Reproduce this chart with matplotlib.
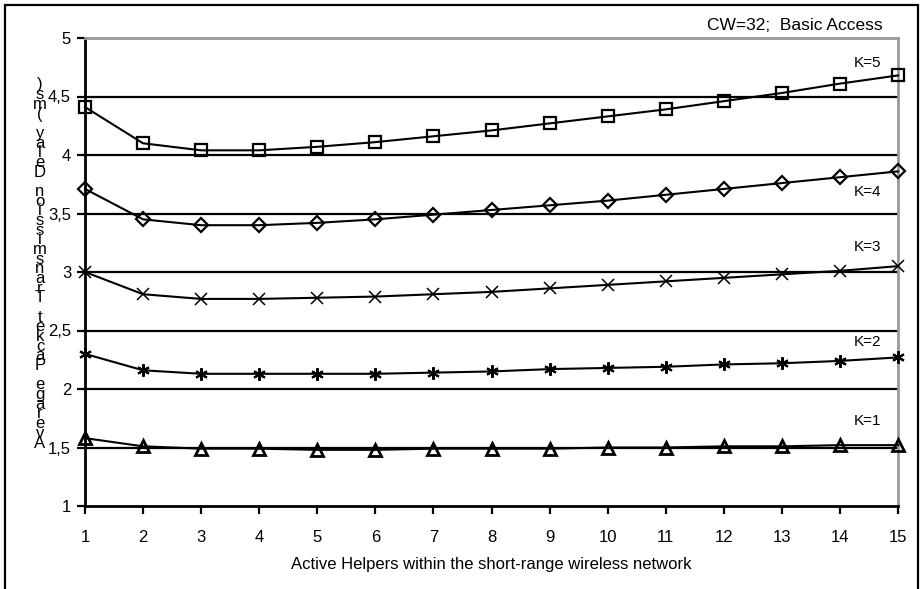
#!/usr/bin/env python

# Average packet transmission delay vs number of active helpers (CW=32, basic access)

import matplotlib

matplotlib.use("Agg")
import matplotlib.pyplot as plt
from matplotlib.patches import Rectangle

plt.rcParams["font.family"] = ["Liberation Sans", "DejaVu Sans"]

helpers = list(range(1, 16))
k_labels = ["K=1", "K=2", "K=3", "K=4", "K=5"]
delay_k1 = [1.58, 1.51, 1.49, 1.49, 1.48, 1.48, 1.49, 1.49, 1.49, 1.50, 1.50, 1.51, 1.51, 1.52, 1.52]
delay_k2 = [2.30, 2.16, 2.13, 2.13, 2.13, 2.13, 2.14, 2.15, 2.17, 2.18, 2.19, 2.21, 2.22, 2.24, 2.27]
delay_k3 = [3.00, 2.81, 2.77, 2.77, 2.78, 2.79, 2.81, 2.83, 2.86, 2.89, 2.92, 2.95, 2.98, 3.01, 3.05]
delay_k4 = [3.71, 3.45, 3.40, 3.40, 3.42, 3.45, 3.49, 3.53, 3.57, 3.61, 3.66, 3.71, 3.76, 3.81, 3.86]
delay_k5 = [4.41, 4.10, 4.04, 4.04, 4.07, 4.11, 4.16, 4.21, 4.27, 4.33, 4.39, 4.46, 4.53, 4.61, 4.68]
label_pos_y = [1.73, 2.40, 3.21, 3.68, 4.79]
y_ticks = [1, 1.5, 2, 2.5, 3, 3.5, 4, 4.5, 5]
y_tick_labels = ["1", "1,5", "2", "2,5", "3", "3,5", "4", "4,5", "5"]

series = [delay_k1, delay_k2, delay_k3, delay_k4, delay_k5]
markers = [
    dict(marker="^", ms=9, mew=2.0),
    dict(marker=(6, 2, 0), ms=9, mew=1.5),
    dict(marker="x", ms=8, mew=1.1),
    dict(marker="D", ms=7, mew=1.6),
    dict(marker="s", ms=8, mew=1.6),
]

fig = plt.figure(figsize=(9.23, 5.89), dpi=100, facecolor="white")

# Outer frame (goes past the bottom of the picture)
fig.patches.append(
    Rectangle((5 / 923, -0.05), 913 / 923, 1 - 5 / 589 + 0.05,
              transform=fig.transFigure, fill=False, edgecolor="black",
              linewidth=1.6, zorder=0)
)

ax = fig.add_axes([85 / 923, 1 - 506 / 589, 813 / 923, 468 / 589])

for y in y_ticks[1:-1]:
    ax.axhline(y, color="black", linewidth=1.6, zorder=1)

for vals, mk in zip(series, markers):
    ax.plot(helpers, vals, color="black", linewidth=1.5, mfc="none", mec="black",
            clip_on=False, zorder=3, **mk)

for lab, ly in zip(k_labels, label_pos_y):
    ax.text(14.47, ly, lab, fontsize=11, ha="center", va="center")

ax.set_xlim(1, 15)
ax.set_ylim(1, 5)
ax.set_xticks(helpers)
ax.set_yticks(y_ticks)
ax.set_yticklabels(y_tick_labels)
ax.tick_params(axis="both", direction="out", length=6, width=1.6, labelsize=12)
ax.tick_params(axis="y", pad=4)
ax.tick_params(axis="x", pad=11)

for side in ["left", "bottom"]:
    ax.spines[side].set_linewidth(2)
    ax.spines[side].set_color("black")
for side in ["top", "right"]:
    ax.spines[side].set_linewidth(2)
    ax.spines[side].set_color("#999999")

ax.set_xlabel("Active Helpers within the short-range wireless network", fontsize=12, labelpad=9)

# Stacked vertical y label, read bottom to top
ylabel = "Average Packet Transmission Delay (ms)"
y_top, y_bot = 85, 443
step = (y_bot - y_top) / (len(ylabel) - 1)
for i, ch in enumerate(ylabel):
    ypix = y_bot - i * step
    fig.text(40 / 923, 1 - ypix / 589, ch, fontsize=12, ha="center", va="center")

fig.text(883 / 923, 1 - 25 / 589, "CW=32;  Basic Access", fontsize=12.5, ha="right", va="center")

fig.savefig("out.png", dpi=100)
